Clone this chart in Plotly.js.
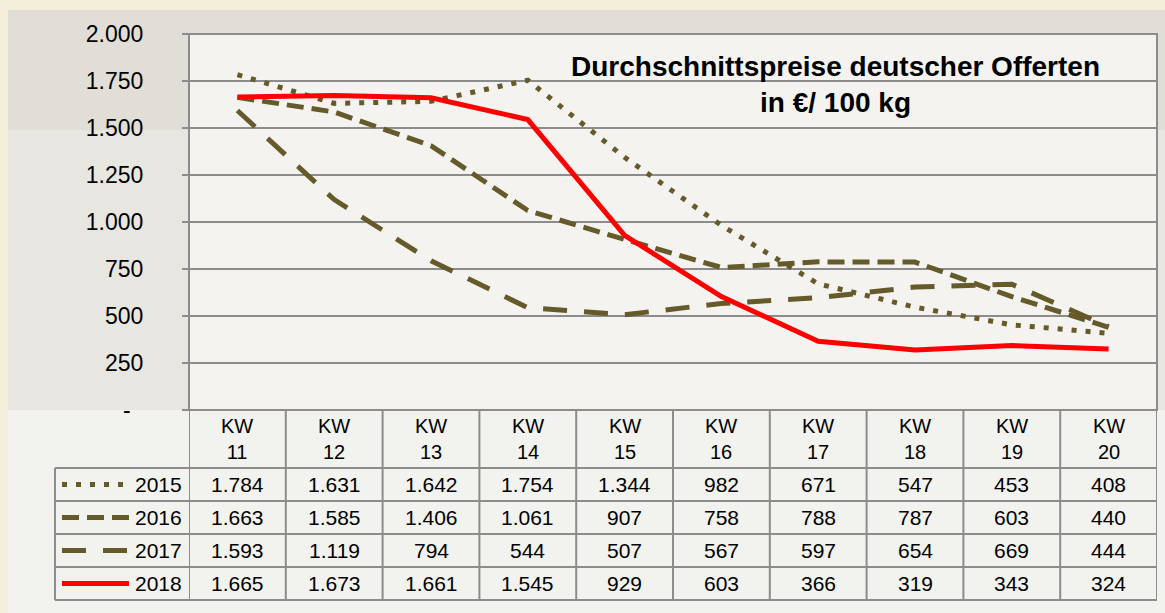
<!DOCTYPE html>
<html>
<head>
<meta charset="utf-8">
<script src="https://cdn.plot.ly/plotly-3.0.1.min.js"></script>
<style>
  html, body { margin: 0; padding: 0; background: #f4efda; }
  #graph { width: 1165px; height: 613px; }
</style>
</head>
<body>
<div id="graph"></div>
<script>
'use strict';

var weeks = ['KW<br>11', 'KW<br>12', 'KW<br>13', 'KW<br>14', 'KW<br>15',
             'KW<br>16', 'KW<br>17', 'KW<br>18', 'KW<br>19', 'KW<br>20'];
var years = ['2015', '2016', '2017', '2018'];

var y2015 = [1784, 1631, 1642, 1754, 1344, 982, 671, 547, 453, 408];
var y2016 = [1663, 1585, 1406, 1061, 907, 758, 788, 787, 603, 440];
var y2017 = [1593, 1119, 794, 544, 507, 567, 597, 654, 669, 444];
var y2018 = [1665, 1673, 1661, 1545, 929, 603, 366, 319, 343, 324];

var tickVals = [0, 250, 500, 750, 1000, 1250, 1500, 1750, 2000];
var tickText = ['-\u00a0\u00a0', '250', '500', '750', '1.000', '1.250', '1.500', '1.750', '2.000'];

var olive = '#655a2a';
var series = [y2015, y2016, y2017, y2018];
var styles = [
    {color: olive, width: 5, dash: '5px,9px'},
    {color: olive, width: 5, dash: '17px,8px'},
    {color: olive, width: 5, dash: '24px,17px'},
    {color: '#ff0000', width: 5, dash: 'solid'}
];

var FONT = 'Liberation Sans, Arial, sans-serif';

// pixel helpers (plot area: x 189..1157, y 34..410)
var L = 189, R = 1157, T = 34, B = 410;
function px(x) { return (x - L) / (R - L); }
function py(y) { return (B - y) / (B - T); }

function fmt(v) {
    var s = String(v);
    if (v >= 1000) s = s.slice(0, s.length - 3) + '.' + s.slice(-3);
    return s;
}

var xs = weeks.map(function (w, i) { return i; });

var data = series.map(function (s, i) {
    return {
        x: xs,
        y: s,
        name: years[i],
        type: 'scatter',
        mode: 'lines',
        line: styles[i],
        hoverinfo: 'skip'
    };
});

var rowCenters = [484.5, 517.5, 550.5, 583.5];
var hLines = [468, 501, 534, 567, 600];
var gridGray = '#8c8c8c';

var shapes = [
    // chart area background
    {type: 'rect', xref: 'paper', yref: 'paper', x0: px(8), x1: px(1165), y0: py(10), y1: py(613),
     fillcolor: '#e8e6e1', line: {width: 0}, layer: 'below'},
    {type: 'rect', xref: 'paper', yref: 'paper', x0: px(8), x1: px(1165), y0: py(10), y1: py(130),
     fillcolor: 'rgba(205,200,190,0.25)', line: {width: 0}, layer: 'below'},
    {type: 'rect', xref: 'paper', yref: 'paper', x0: px(8), x1: px(1165), y0: py(410), y1: py(613),
     fillcolor: 'rgba(246,245,242,0.75)', line: {width: 0}, layer: 'below'},
    // plot area
    {type: 'rect', xref: 'paper', yref: 'paper', x0: 0, x1: 1, y0: 0, y1: 1,
     fillcolor: '#f4f3f0', line: {color: gridGray, width: 2}, layer: 'below'}
];

// table grid
hLines.forEach(function (h) {
    shapes.push({type: 'line', xref: 'paper', yref: 'paper', x0: px(55), x1: 1, y0: py(h), y1: py(h),
                 line: {color: gridGray, width: 2}});
});
for (var j = 0; j <= weeks.length; j++) {
    shapes.push({type: 'line', xref: 'x', yref: 'paper', x0: j - 0.5, x1: j - 0.5, y0: py(410), y1: py(600),
                 line: {color: gridGray, width: 2}});
}
shapes.push({type: 'line', xref: 'paper', yref: 'paper', x0: px(55), x1: px(55), y0: py(468), y1: py(600),
             line: {color: gridGray, width: 2}});

// legend keys
styles.forEach(function (st, i) {
    shapes.push({type: 'line', xref: 'paper', yref: 'paper', x0: px(62), x1: px(129),
                 y0: py(rowCenters[i]), y1: py(rowCenters[i]),
                 line: {color: st.color, width: st.width, dash: st.dash}});
});

var annotations = [{
    text: '<b>Durchschnittspreise deutscher Offerten<br>in €/ 100 kg</b>',
    xref: 'paper', yref: 'paper', x: px(835), y: py(84), showarrow: false,
    xanchor: 'center', yanchor: 'middle',
    font: {family: FONT, size: 28, color: '#000'},
    align: 'center'
}];

weeks.forEach(function (w, i) {
    annotations.push({text: w, xref: 'x', yref: 'paper', x: i, y: py(439), showarrow: false,
                      xanchor: 'center', yanchor: 'middle',
                      font: {family: FONT, size: 20, color: '#000'}});
});

series.forEach(function (s, r) {
    annotations.push({text: years[r], xref: 'paper', yref: 'paper', x: px(184), y: py(rowCenters[r]),
                      xanchor: 'right', yanchor: 'middle', showarrow: false,
                      font: {family: FONT, size: 21, color: '#000'}});
    s.forEach(function (v, i) {
        annotations.push({text: fmt(v), xref: 'x', yref: 'paper', x: i, y: py(rowCenters[r]), showarrow: false,
                          xanchor: 'center', yanchor: 'middle',
                          font: {family: FONT, size: 21, color: '#000'}});
    });
});

var layout = {
    width: 1165,
    height: 613,
    margin: {l: L, r: 1165 - R, t: T, b: 613 - B, pad: 0, autoexpand: false},
    paper_bgcolor: '#f4efda',
    plot_bgcolor: 'rgba(0,0,0,0)',
    showlegend: false,
    font: {family: FONT, size: 22, color: '#000'},
    xaxis: {
        range: [-0.5, weeks.length - 0.5],
        showticklabels: false,
        showgrid: false,
        zeroline: false,
        ticks: '',
        automargin: false,
        fixedrange: true
    },
    yaxis: {
        range: [0, 2000],
        tickvals: tickVals,
        ticktext: tickText,
        ticks: 'outside',
        ticklen: 6,
        tickwidth: 2,
        tickcolor: gridGray,
        ticklabelstandoff: 34,
        showgrid: true,
        gridcolor: gridGray,
        gridwidth: 1.5,
        zeroline: false,
        showline: false,
        automargin: false,
        tickfont: {size: 23},
        fixedrange: true
    },
    shapes: shapes,
    annotations: annotations
};

Plotly.newPlot('graph', data, layout, {staticPlot: true});
</script>
</body>
</html>
